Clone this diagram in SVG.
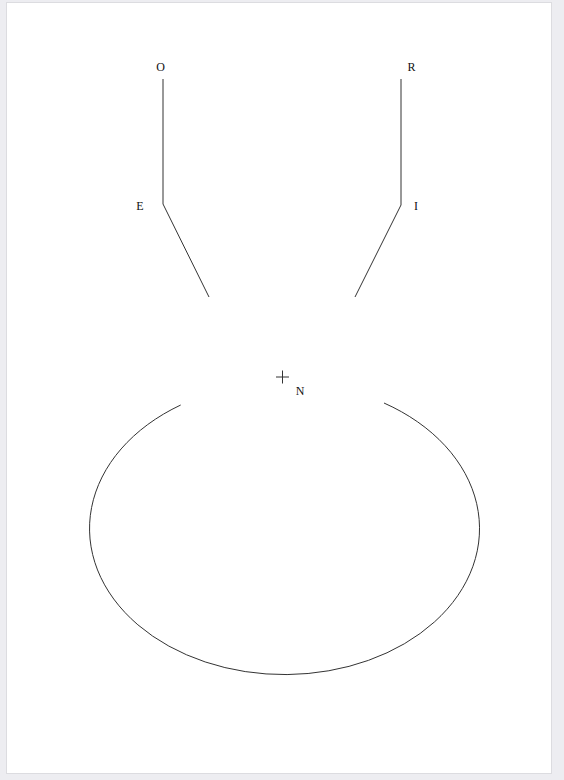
<svg xmlns="http://www.w3.org/2000/svg" width="564" height="780" viewBox="0 0 564 780">
  <style>
    .ln { fill: none; stroke: #333; stroke-width: 1; }
    .lbl { font-family: "Liberation Serif", "Times New Roman", serif; font-size: 12px; fill: #111; text-anchor: middle; }
  </style>
  <rect x="0" y="0" width="564" height="780" fill="#ededf1"/>
  <rect x="6.5" y="2.5" width="545" height="771" fill="#ffffff" stroke="#dcdce0" stroke-width="1"/>
  <g id="connectors">
    <polyline class="ln" points="163,79 163,204 209,297"/>
    <polyline class="ln" points="401,79 401,205 355,297"/>
    <path class="ln" d="M 180.7 405 A 195 146 0 1 0 384 403"/>
  </g>
  <g id="node-O"><text class="lbl" x="160.5" y="71">O</text></g>
  <g id="node-E"><text class="lbl" x="140" y="210">E</text></g>
  <g id="node-R"><text class="lbl" x="411.5" y="71">R</text></g>
  <g id="node-I"><text class="lbl" x="416" y="210">I</text></g>
  <g id="node-N">
    <path class="ln" d="M 276 377 H 289 M 282.5 370.5 V 383.5"/>
    <text class="lbl" x="300" y="395">N</text>
  </g>
</svg>
